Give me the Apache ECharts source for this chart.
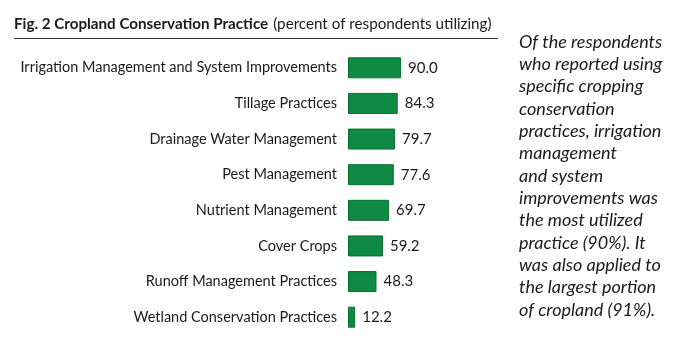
<!DOCTYPE html>
<html><head><meta charset="utf-8">
<script src="https://cdn.jsdelivr.net/npm/echarts@6/dist/echarts.min.js"></script>
<style>html,body{margin:0;padding:0;background:#fff}#c{width:700px;height:351px}</style>
</head><body><div id="c"></div>
<script>
const categories = ["Irrigation Management and System Improvements","Tillage Practices","Drainage Water Management","Pest Management","Nutrient Management","Cover Crops","Runoff Management Practices","Wetland Conservation Practices"];
const values = [90.0,84.3,79.7,77.6,69.7,59.2,48.3,12.2];
const noteLines = ["Of the respondents","who reported using","specific cropping","conservation","practices, irrigation","management","and system","improvements was","the most utilized","practice (90%). It","was also applied to","the largest portion","of cropland (91%)."];

const chart = echarts.init(document.getElementById('c'));
const F = 'Lato, sans-serif';
const graphics = [
  {type:'line', shape:{x1:14,y1:38.5,x2:498,y2:38.5}, style:{stroke:'#333',lineWidth:1.2}}
];
noteLines.forEach((t,i)=>{
  graphics.push({type:'text', x:519, y:41.7+i*22.36, style:{text:t, font:'italic 18px Lato, sans-serif', fill:'#1a1a1a', verticalAlign:'middle', align:'left'}});
});
chart.setOption({
  animation:false,
  title:{
    left:14, top:15, padding:0,
    text:'{b|Fig. 2 Cropland Conservation Practice} {n|(percent of respondents utilizing)}',
    textStyle:{rich:{
      b:{fontFamily:F,fontWeight:'bold',fontSize:15.2,color:'#1a1a1a'},
      n:{fontFamily:F,fontWeight:'normal',fontSize:15.2,color:'#1a1a1a'}
    }}
  },
  grid:{left:348, top:50, height:285, width:59, containLabel:false, outerBoundsMode:'none'},
  xAxis:{type:'value', min:0, max:100, show:false},
  yAxis:{type:'category', data:categories, inverse:true,
    axisLine:{show:false}, axisTick:{show:false}, splitLine:{show:false},
    axisLabel:{margin:11, fontFamily:F, fontSize:14.5, color:'#1a1a1a'}},
  series:[{type:'bar', data:values, barWidth:21,
    itemStyle:{color:'#0f8a44', borderColor:'#0b6f2c', borderWidth:1},
    label:{show:true, position:'right', distance:7, formatter:p=>p.value.toFixed(1),
      fontFamily:F, fontSize:15, color:'#1a1a1a'}}],
  graphic:graphics
});
</script></body></html>
